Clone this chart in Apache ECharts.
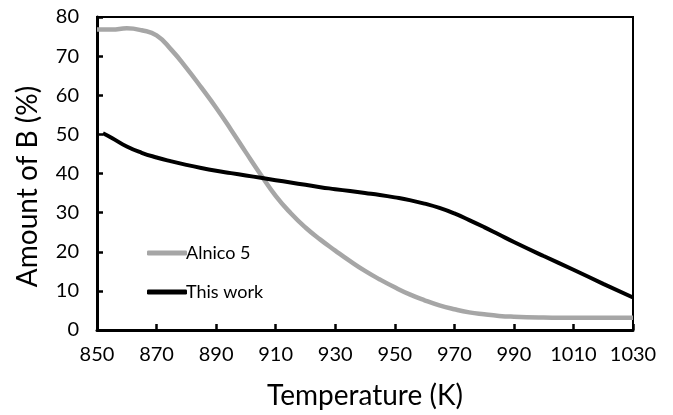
<!DOCTYPE html>
<html>
<head>
<meta charset="utf-8">
<script src="https://cdn.jsdelivr.net/npm/echarts@6/dist/echarts.min.js"></script>
<style>
  html, body { margin: 0; padding: 0; background: #fff; }
  #chart { width: 673px; height: 415px; }
</style>
</head>
<body>
<div id="chart"></div>
<script>
// x tick labels (K)
const xTicks = [850, 870, 890, 910, 930, 950, 970, 990, 1010, 1030]

// Alnico 5 (grey curve)
const alnicoT = [850, 855, 860, 865, 870, 875, 880, 885, 890, 895, 900, 905, 910, 915, 920, 925, 930, 935, 940, 945, 950, 955, 960, 965, 970, 975, 980, 985, 990, 1000, 1010, 1020, 1030]
const alnicoB = [76.8, 76.8, 77.1, 76.6, 75.3, 71.6, 67, 62, 56.8, 51.2, 45.4, 39.7, 34.3, 29.9, 26.2, 23.1, 20.3, 17.6, 15.1, 12.9, 10.9, 9.1, 7.6, 6.3, 5.3, 4.5, 4, 3.6, 3.4, 3.2, 3.1, 3.1, 3.1]

// This work (black curve)
const workT = [852, 855, 860, 865, 870, 875, 880, 885, 890, 895, 900, 905, 910, 915, 920, 925, 930, 935, 940, 945, 950, 955, 960, 965, 970, 975, 980, 985, 990, 1000, 1010, 1020, 1030]
const workB = [50.3, 49.1, 46.9, 45.3, 44.1, 43.1, 42.2, 41.4, 40.7, 40.1, 39.5, 38.9, 38.3, 37.7, 37.1, 36.5, 36, 35.5, 35, 34.5, 33.9, 33.2, 32.3, 31.2, 29.8, 28.1, 26.3, 24.4, 22.5, 18.9, 15.4, 11.8, 8.3]

const zip = (xs, ys) => xs.map((x, i) => [x, ys[i]])

const chart = echarts.init(document.getElementById('chart'))
const font = 'Lato'

chart.setOption({
  animation: false,
  backgroundColor: '#fff',
  textStyle: { fontFamily: font },
  grid: {
    left: 97, right: 40, top: 17, bottom: 82,
    show: true, borderColor: '#000', borderWidth: 2
  },
  legend: {
    orient: 'vertical',
    left: 142, top: 239,
    itemWidth: 40, itemHeight: 5, itemGap: 21,
    icon: 'roundRect',
    textStyle: { fontFamily: font, fontSize: 18, color: '#000', padding: [0, 0, 0, -6] },
    data: ['Alnico 5', 'This work']
  },
  xAxis: {
    type: 'value',
    min: 850, max: 1030,
    name: 'Temperature (K)',
    nameLocation: 'middle',
    nameGap: 52,
    nameTextStyle: { fontSize: 28, color: '#000', fontFamily: font },
    axisLine: { show: true, lineStyle: { color: '#000', width: 3 } },
    axisTick: { show: true, inside: true, length: 6, lineStyle: { color: '#000', width: 2.5 }, customValues: xTicks },
    axisLabel: { color: '#000', fontSize: 20, margin: 15, customValues: xTicks, formatter: v => String(v) },
    splitLine: { show: false }
  },
  yAxis: {
    type: 'value',
    min: 0, max: 80, interval: 10,
    name: 'Amount of B (%)',
    nameLocation: 'middle',
    nameGap: 55,
    nameTextStyle: { fontSize: 28, color: '#000', fontFamily: font, padding: [0, 26, 0, 0] },
    axisLine: { show: true, lineStyle: { color: '#000', width: 3 } },
    axisTick: { show: true, inside: true, length: 6, lineStyle: { color: '#000', width: 2.5 } },
    axisLabel: { color: '#000', fontSize: 20, margin: 18 },
    splitLine: { show: false }
  },
  series: [
    {
      name: 'Alnico 5',
      type: 'line',
      smooth: 0.5,
      showSymbol: false,
      symbol: 'none',
      itemStyle: { color: '#a6a6a6' },
      lineStyle: { color: '#a6a6a6', width: 4.5 },
      data: zip(alnicoT, alnicoB)
    },
    {
      name: 'This work',
      type: 'line',
      smooth: 0.5,
      showSymbol: false,
      symbol: 'none',
      itemStyle: { color: '#000' },
      lineStyle: { color: '#000', width: 4 },
      data: zip(workT, workB)
    }
  ]
})
</script>
</body>
</html>
